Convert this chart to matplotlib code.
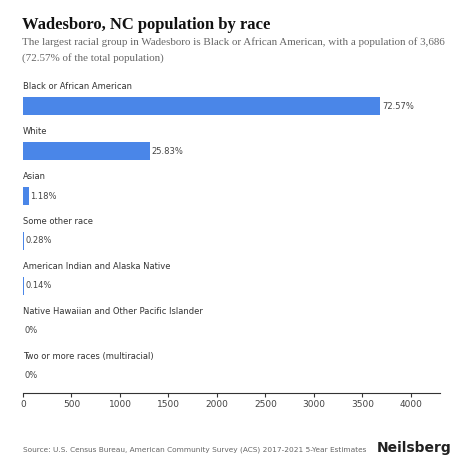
import matplotlib
matplotlib.use("Agg")
import matplotlib.pyplot as plt

categories = ["Black or African American", "White", "Asian", "Some other race",
              "American Indian and Alaska Native", "Native Hawaiian and Other Pacific Islander",
              "Two or more races (multiracial)"]
values = [3686, 1312, 60, 14, 7, 0, 0]
pct_labels = ["72.57%", "25.83%", "1.18%", "0.28%", "0.14%", "0%", "0%"]
xticks = [0, 500, 1000, 1500, 2000, 2500, 3000, 3500, 4000]

fig = plt.figure(figsize=(4.74, 4.74), dpi=100)
ax = fig.add_axes([23/474, 1-393/474, 417/474, 313/474])
ys = list(range(len(categories)))
ax.barh(ys, values, height=0.4, color="#4a86e8")
for y, v, c, p in zip(ys, values, categories, pct_labels):
    ax.text(0, y - 0.44, c, fontsize=6, color="#333333", va="center", ha="left", family="DejaVu Sans")
    ax.text(v + 15, y, p, fontsize=6, color="#444444", va="center", ha="left")
ax.set_ylim(6.38, -0.58)
ax.set_xlim(0, 4300)
ax.set_xticks(xticks)
ax.set_xticklabels([str(t) for t in xticks], fontsize=6.5, color="#444444")
ax.set_yticks([])
for s in ["top", "right", "left"]:
    ax.spines[s].set_visible(False)
ax.spines["bottom"].set_color("#333333")
ax.tick_params(axis="x", length=3, color="#333333", pad=2)

fig.text(22/474, 1-25/474, "Wadesboro, NC population by race", fontsize=12, fontweight="bold",
         family="Liberation Serif", va="center", color="#111111")
fig.text(22/474, 1-42/474, "The largest racial group in Wadesboro is Black or African American, with a population of 3,686",
         fontsize=7.9, family="Liberation Serif", va="center", color="#666666")
fig.text(22/474, 1-58/474, "(72.57% of the total population)",
         fontsize=7.9, family="Liberation Serif", va="center", color="#666666")
fig.text(23/474, 1-450/474, "Source: U.S. Census Bureau, American Community Survey (ACS) 2017-2021 5-Year Estimates",
         fontsize=5.3, va="center", color="#666666")
fig.text(451/474, 1-448/474, "Neilsberg", fontsize=10, fontweight="bold", ha="right", va="center", color="#222222")
fig.savefig("out.png", dpi=100, facecolor="white")
